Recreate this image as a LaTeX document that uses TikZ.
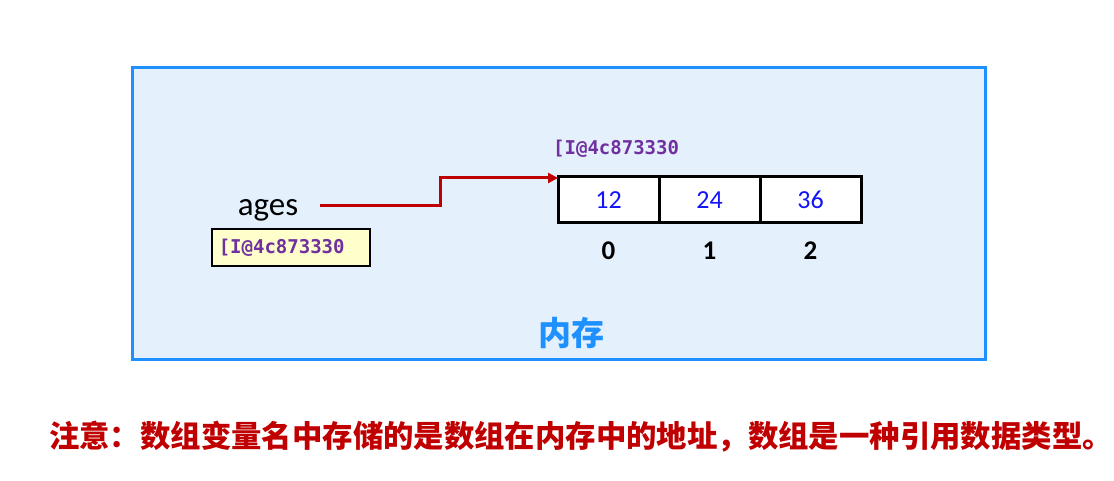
\documentclass[tikz,border=0pt]{standalone}
\usepackage{fontspec}
\setmainfont{Carlito}
\newfontfamily\cjkfont{Noto Sans CJK SC}
\newfontfamily\addrfont{DejaVu Sans Mono}
\usetikzlibrary{positioning,arrows.meta}

\definecolor{memblue}{RGB}{30,144,255}
\definecolor{memfill}{RGB}{228,240,252}
\definecolor{addrpurple}{RGB}{112,48,160}
\definecolor{refred}{RGB}{192,0,0}
\definecolor{noteyellow}{RGB}{255,255,204}
\definecolor{valblue}{RGB}{20,20,250}

\tikzset{
    memory/.style={rectangle, draw=memblue, line width=3pt, fill=memfill,
        minimum width=853pt, minimum height=292pt},
    cell/.style={rectangle, draw, line width=3pt, fill=white, outer sep=0pt,
        minimum width=101pt, minimum height=46pt, inner sep=0pt,
        text=valblue, font=\fontsize{26}{30}\selectfont},
    index/.style={inner sep=0pt, font=\fontsize{27}{31}\selectfont\bfseries},
    addr/.style={inner sep=0pt, text=addrpurple,
        font=\addrfont\bfseries\fontsize{19}{22}\selectfont},
    refbox/.style={rectangle, draw, line width=1.5pt, fill=noteyellow,
        minimum height=37pt, inner xsep=7pt, text width=144pt, align=left},
    refline/.style={draw=refred, line width=3pt,
        -{Triangle[length=10pt,width=10pt]}},
}

\begin{document}
\begin{tikzpicture}[x=1pt, y=-1pt]
    \useasboundingbox[fill=white] (0,0) rectangle (1114,481);
    \node[memory] (mem) at (559,213.5) {};
    % array cells
    \node[cell] (cell0) at (608.5,200) {12};
    \node[cell, right=0pt of cell0] (cell1) {24};
    \node[cell, right=0pt of cell1] (cell2) {36};
    \node[index, below=19pt of cell0] (i0) {0};
    \node[index, below=19pt of cell1] (i1) {1};
    \node[index, below=19pt of cell2] (i2) {2};
    \node[addr, anchor=west] (head) at (553,149) {[I@4c873330};
    % variable
    \node[inner sep=0pt, font=\fontsize{33}{38}\selectfont] (ages) at (268,210) {ages};
    \node[refbox, anchor=west] (ref) at (211,247.5) {\addrfont\bfseries\fontsize{19}{22}\selectfont\color{addrpurple}[I@4c873330};
    \coordinate (bend) at (440,178);
    \draw[refline] ([xshift=22pt,yshift=4pt]ages.east) -| (bend) -- (cell0.west |- bend);
    \node[text=memblue, font=\cjkfont\bfseries\fontsize{33}{38}\selectfont] (memlabel) at (571,333) {内存};
    % note
    \node[text=refred, font=\cjkfont\bfseries\fontsize{30.4}{35}\selectfont] (note) at (581,437)
        {注意：数组变量名中存储的是数组在内存中的地址，数组是一种引用数据类型。};
\end{tikzpicture}
\end{document}
